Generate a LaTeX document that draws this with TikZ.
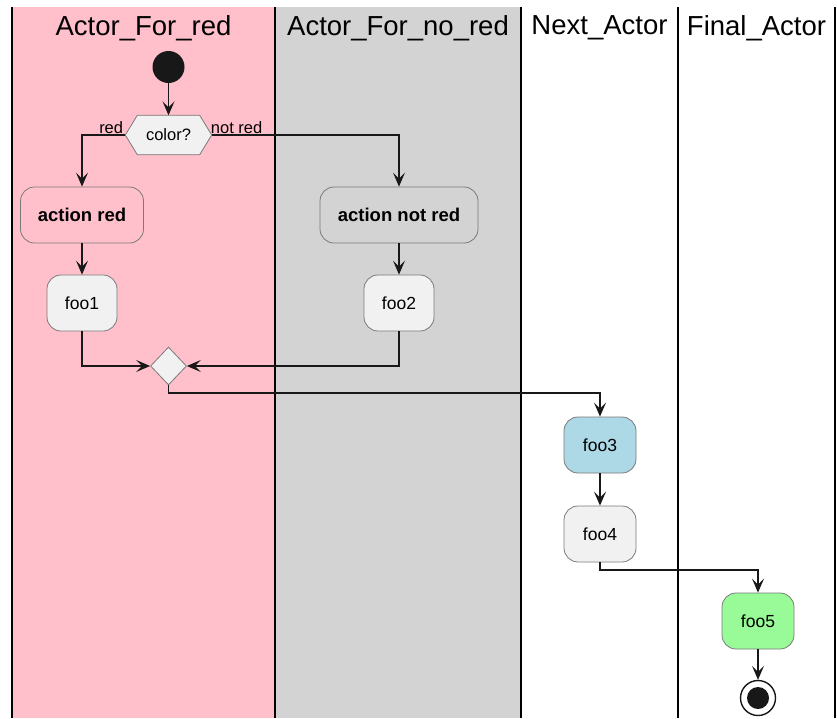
\documentclass[tikz,border=0pt]{standalone}
\usepackage{fontspec}
\setmainfont{Liberation Sans}
\usetikzlibrary{arrows.meta,shapes.geometric,calc}
\definecolor{lanepink}{HTML}{FFC0CB}
\definecolor{lanegray}{HTML}{D3D3D3}
\definecolor{nodefill}{HTML}{F1F1F1}
\definecolor{nodeborder}{HTML}{7A7A7A}
\definecolor{lblue}{HTML}{ADD8E6}
\definecolor{pgreen}{HTML}{98FB98}
\definecolor{ink}{HTML}{181818}
\begin{document}
\begin{tikzpicture}[x=1pt,y=-1pt,
  act/.style={draw=nodeborder, line width=0.8pt, rounded corners=14pt, fill=nodefill,
    minimum height=56pt, inner sep=0pt, font=\fontsize{17.5}{20}\selectfont},
  boldact/.style={act, font=\fontsize{18.5}{20}\selectfont\bfseries},
  flow/.style={draw=ink, line width=1.3pt, -{Stealth[length=14pt,width=12pt,inset=6pt]}},
  lanehead/.style={font=\fontsize{27.5}{30}\selectfont, text=black},
  guardlbl/.style={font=\fontsize{16.5}{18}\selectfont, inner sep=1pt},
  laneline/.style={draw=black, line width=1.6pt}
]
\useasboundingbox (0,0) rectangle (837,718);
\fill[white] (0,0) rectangle (837,718);
% lanes
\fill[lanepink] (12,7) rectangle (275,718);
\fill[lanegray] (275,7) rectangle (521,718);
\draw[laneline] (12,7) -- (12,718);
\draw[laneline] (275,7) -- (275,718);
\draw[laneline] (521,7) -- (521,718);
\draw[laneline] (678,7) -- (678,718);
\draw[laneline] (835,7) -- (835,718);
\node[lanehead] (h1) at (143.5,28) {Actor\_For\_red};
\node[lanehead] (h2) at (398,28) {Actor\_For\_no\_red};
\node[lanehead] (h3) at (599.5,28) {Next\_Actor};
\node[lanehead] (h4) at (756.5,28) {Final\_Actor};

% nodes
\node[circle, fill=ink, minimum size=32pt, inner sep=0pt] (start) at (168.5,67) {};
\node[minimum width=86pt, minimum height=39pt, inner sep=0pt,
      font=\fontsize{16.5}{18}\selectfont] (color) at (168.5,135) {color?};
\draw[draw=nodeborder, line width=0.8pt, fill=nodefill]
  (color.west) -- ($(color.north west)+(12,0)$) -- ($(color.north east)+(-12,0)$)
  -- (color.east) -- ($(color.south east)+(-12,0)$) -- ($(color.south west)+(12,0)$) -- cycle;
\node[font=\fontsize{16.5}{18}\selectfont] at (color) {color?};

\node[boldact, fill=lanepink, minimum width=123pt] (ared) at (82,215) {action red};
\node[boldact, fill=lanegray, minimum width=158pt] (anotred) at (399,215) {action not red};
\node[act, minimum width=70pt] (foo1) at (82,303) {foo1};
\node[act, minimum width=70pt] (foo2) at (399,303) {foo2};
\node[diamond, draw=nodeborder, line width=0.8pt, fill=nodefill, minimum width=36pt,
      minimum height=38pt, inner sep=0pt] (merge) at (168.5,366) {};
\node[act, fill=lblue, minimum width=72pt] (foo3) at (600,445) {foo3};
\node[act, minimum width=72pt] (foo4) at (600,534) {foo4};
\node[act, fill=pgreen, minimum width=72pt] (foo5) at (758,621) {foo5};
\node[circle, draw=ink, line width=1.4pt, fill=white, minimum size=35pt, inner sep=0pt] (end) at (758,698) {};
\fill[ink] (end.center) circle (11pt);

\coordinate (m1) at (168.5,393);
\coordinate (m2) at (600,570);

% connectors
\draw[flow] (start) -- (color.north);
\draw[flow] (color.west) -| (ared.north);
\draw[flow] (color.east) -| (anotred.north);
\node[guardlbl, anchor=south east] (lred) at ($(color.west)+(-1,0)$) {red};
\node[guardlbl, anchor=south west] (lnotred) at ($(color.east)+(-2,0)$) {not red};
\draw[flow] (ared) -- (foo1);
\draw[flow] (anotred) -- (foo2);
\draw[flow] (foo1.south) |- (merge.west);
\draw[flow] (foo2.south) |- (merge.east);
\draw[flow] (merge.south) -- (m1) -| (foo3.north);
\draw[flow] (foo3) -- (foo4);
\draw[flow] (foo4.south) -- (m2) -| (foo5.north);
\draw[flow] (foo5) -- (end);
\end{tikzpicture}
\end{document}
